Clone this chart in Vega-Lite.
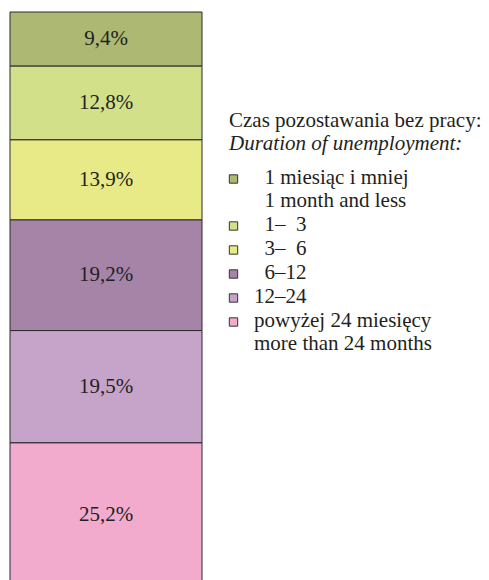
{
  "$schema": "https://vega.github.io/schema/vega-lite/v6.json",
  "width": 192,
  "height": 568,
  "autosize": {"type": "none"},
  "padding": {"left": 10, "top": 12, "right": 287, "bottom": 0},
  "background": "white",
  "config": {
    "locale": {"number": {"decimal": ",", "thousands": " ", "grouping": [3], "currency": ["", " zł"]}},
    "view": {"stroke": null},
    "font": "Liberation Serif"
  },
  "title": {
    "text": "Czas pozostawania bez pracy:",
    "subtitle": "Duration of unemployment:",
    "anchor": "start",
    "frame": "group",
    "orient": "top",
    "offset": 0,
    "dx": 219,
    "dy": 142,
    "font": "Liberation Serif",
    "fontSize": 21,
    "fontWeight": "normal",
    "color": "#231f20",
    "subtitleFont": "Liberation Serif",
    "subtitleFontSize": 21,
    "subtitleFontStyle": "italic",
    "subtitleColor": "#231f20",
    "subtitlePadding": 2
  },
  "data": {
    "values": [
      {"okres": "1 miesiąc i mniej", "nr": 1, "udzial": 0.094},
      {"okres": "1–3", "nr": 2, "udzial": 0.128},
      {"okres": "3–6", "nr": 3, "udzial": 0.139},
      {"okres": "6–12", "nr": 4, "udzial": 0.192},
      {"okres": "12–24", "nr": 5, "udzial": 0.195},
      {"okres": "powyżej 24 miesięcy", "nr": 6, "udzial": 0.252}
    ]
  },
  "layer": [
    {
      "mark": {"type": "bar", "stroke": "#2b2b2b", "strokeWidth": 1, "width": {"band": 1}},
      "encoding": {
        "x": {"datum": "ogółem", "type": "nominal", "scale": {"paddingInner": 0, "paddingOuter": 0}, "axis": null},
        "y": {"field": "udzial", "type": "quantitative", "stack": "zero", "scale": {"domain": [0.014, 1], "nice": false, "zero": false}, "axis": null},
        "order": {"field": "nr", "sort": "descending"},
        "color": {
          "field": "okres",
          "type": "nominal",
          "scale": {
            "domain": ["1 miesiąc i mniej", "1–3", "3–6", "6–12", "12–24", "powyżej 24 miesięcy"],
            "range": ["#adb872", "#d3e08a", "#e8ea87", "#a584a8", "#c6a3c9", "#f2abcc"]
          },
          "legend": {
            "orient": "none",
            "legendX": 213,
            "legendY": 156.5,
            "title": null,
            "symbolType": "square",
            "symbolSize": 70,
            "symbolStrokeColor": "#333333",
            "symbolStrokeWidth": 1,
            "symbolOpacity": 1,
            "labelFont": "Liberation Serif",
            "labelFontSize": 21,
            "labelColor": "#231f20",
            "labelOffset": 10,
            "labelLimit": 0,
            "labelBaseline": "alphabetic",
            "rowPadding": 2,
            "labelExpr": "datum.label == '1 miesiąc i mniej' ? ['\u200B\u20071 miesiąc i mniej', '\u200B\u20071 month and less'] : datum.label == 'powyżej 24 miesięcy' ? ['powyżej 24 miesięcy', 'more than 24 months'] : datum.label == '1–3' ? '\u200B\u20071–\u20073' : datum.label == '3–6' ? '\u200B\u20073–\u20076' : datum.label == '6–12' ? '\u200B\u20076–12' : datum.label",
            "encode": {"labels": {"update": {"dy": {"value": 5}}}}
          }
        }
      }
    },
    {
      "mark": {"type": "text", "fontSize": 21, "font": "Liberation Serif", "color": "#231f20", "baseline": "middle"},
      "encoding": {
        "x": {"datum": "ogółem", "type": "nominal"},
        "y": {"field": "udzial", "type": "quantitative", "stack": "zero", "bandPosition": 0.5},
        "order": {"field": "nr", "sort": "descending"},
        "detail": {"field": "okres", "type": "nominal"},
        "text": {"field": "udzial", "type": "quantitative", "format": ".1%"}
      }
    }
  ]
}
